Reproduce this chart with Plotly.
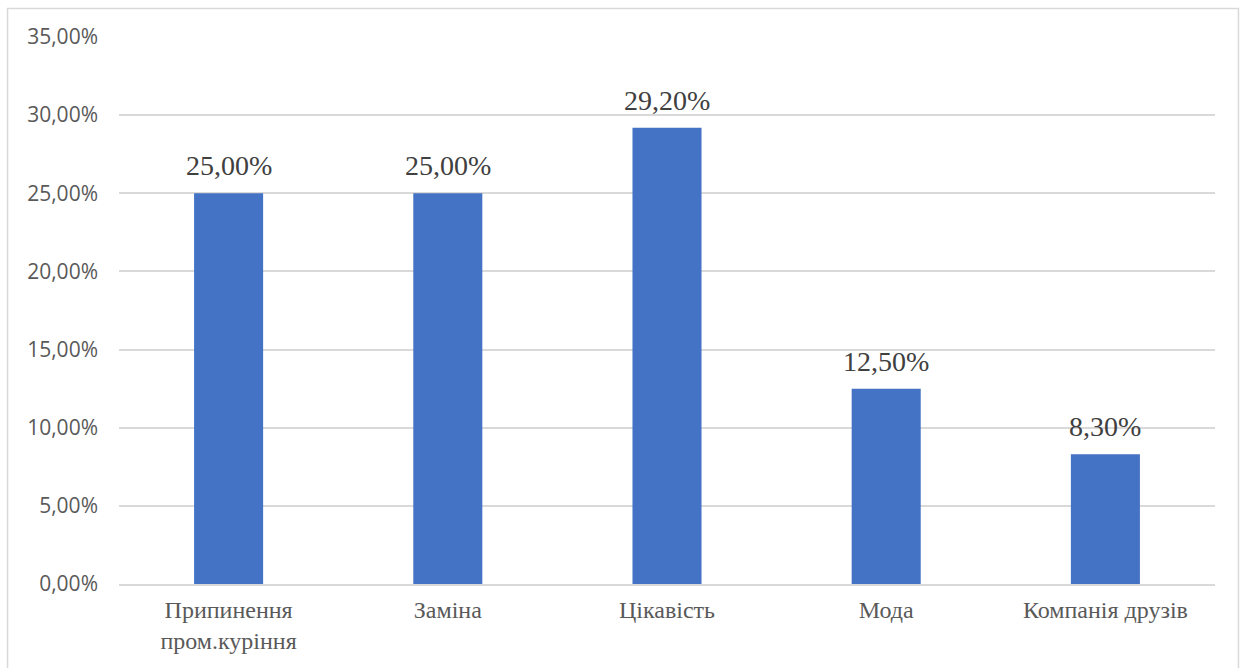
import plotly.graph_objects as go

categories = ["Припинення<br>пром.куріння", "Заміна", "Цікавість", "Мода", "Компанія друзів"]
values = [25.0, 25.0, 29.2, 12.5, 8.3]
value_labels = ["25,00%", "25,00%", "29,20%", "12,50%", "8,30%"]
y_ticks = [0, 5, 10, 15, 20, 25, 30, 35]
y_tick_labels = ["0,00%", "5,00%", "10,00%", "15,00%", "20,00%", "25,00%", "30,00%", "35,00%"]

fig = go.Figure()
fig.add_trace(go.Bar(
    x=categories, y=values,
    marker=dict(color="#4472C4", line=dict(width=0)),
    width=0.315,
    hoverinfo="skip",
))

annotations = [
    dict(x=c, y=v, xref="x", yref="y", text=t, showarrow=False,
         yanchor="bottom", yshift=10,
         font=dict(family="Liberation Serif", size=28, color="#404040"))
    for c, v, t in zip(categories, values, value_labels)
]

fig.update_layout(
    width=1247, height=668,
    margin=dict(l=119, r=32, t=37, b=84),
    paper_bgcolor="white", plot_bgcolor="white",
    showlegend=False,
    annotations=annotations,
    shapes=[dict(type="rect", xref="paper", yref="paper",
                 x0=-0.1017, x1=1.0214, y0=-0.3, y1=1.0521,
                 line=dict(color="#d9d9d9", width=1.5), fillcolor="rgba(0,0,0,0)", layer="below")],
)
fig.update_xaxes(
    showgrid=False, showline=True, linecolor="#d9d9d9", linewidth=1.5,
    ticks="", tickfont=dict(family="Liberation Serif", size=24, color="#595959"),
    ticklabelstandoff=3,
)
fig.update_yaxes(
    range=[0, 35], tickvals=y_ticks, ticktext=y_tick_labels,
    showgrid=True, gridcolor="#d9d9d9", gridwidth=1.5,
    zeroline=False, showline=False, ticks="",
    tickfont=dict(family="Open Sans", size=21, color="#595959"),
    ticklabelstandoff=20,
)
fig.write_html("out.html")
